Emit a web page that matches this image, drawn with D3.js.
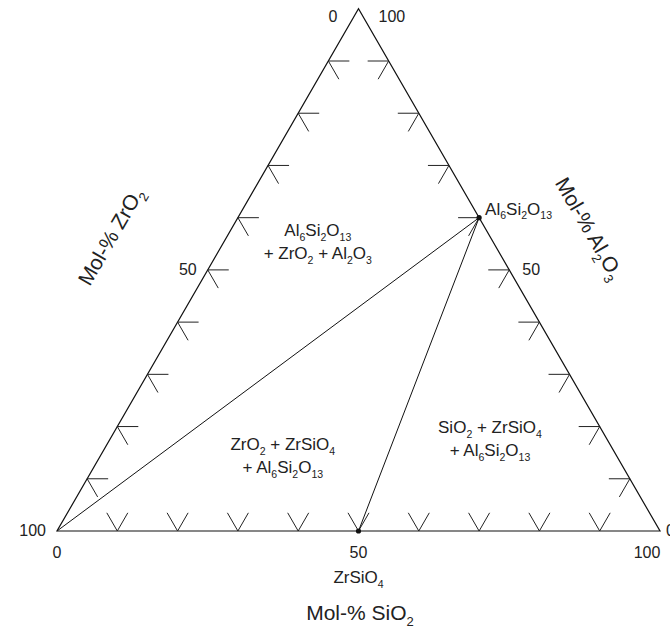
<!DOCTYPE html>
<html>
<head>
<meta charset="utf-8">
<script src="https://cdn.jsdelivr.net/npm/d3@7"></script>
<style>
  body { margin: 0; background: #fff; }
  svg text { font-family: "Liberation Sans", Arial, sans-serif; fill: #222; }
</style>
</head>
<body>
<div id="chart"></div>
<script>
// ternary: bottom-left = ZrO2, bottom-right = SiO2, top = Al2O3
const innerTicks = [10, 20, 30, 40, 50, 60, 70, 80, 90];
const bottomLabels = [0, 50, 100];      // Mol-% SiO2
const leftLabels = [100, 50, 0];        // Mol-% ZrO2 (at Al2O3 = 0, 50, 100)
const rightLabels = [0, 50, 100];       // Mol-% Al2O3

// phases: [name, SiO2, Al2O3]
const phases = [
  { name: 'ZrO2', si: 0, al: 0, show: false },
  { name: 'ZrSiO4', si: 50, al: 0, show: true },
  { name: 'Al6Si2O13', si: 40, al: 60, show: true }
];
const tieLines = [['ZrO2', 'Al6Si2O13'], ['ZrSiO4', 'Al6Si2O13']];

// phase field labels, anchored at a composition (SiO2, Al2O3)
const fields = [
  { lines: ['Al6Si2O13', '+ ZrO2 + Al2O3'], si: 15, al: 56.5 },
  { lines: ['ZrO2 + ZrSiO4', '+ Al6Si2O13'], si: 29.7, al: 15.5 },
  { lines: ['SiO2 + ZrSiO4', '+ Al6Si2O13'], si: 62.4, al: 18.8 }
];

const width = 670, height = 628;
const x0 = 57, side = 603, yBase = 531;
const tri = side * Math.sqrt(3) / 2;

const svg = d3.select('#chart').append('svg')
  .attr('width', width).attr('height', height);

const xScale = d3.scaleLinear().domain([0, 100]).range([x0, x0 + side]);
const yScale = d3.scaleLinear().domain([0, 100]).range([yBase, yBase - tri]);
const proj = (si, al) => [xScale(si) + (xScale(al) - x0) / 2, yScale(al)];

// write chemical formula with subscripted digits
function formula(sel, str, size) {
  const parts = str.split(/(\d+)/).filter(s => s.length);
  let sub = false;
  parts.forEach(p => {
    const isNum = /^\d+$/.test(p);
    const t = sel.append('tspan').text(p);
    if (isNum && !sub) { t.attr('dy', size * 0.28).attr('font-size', size * 0.62); sub = true; }
    else if (isNum) { t.attr('font-size', size * 0.62); }
    else if (sub) { t.attr('dy', -size * 0.28); sub = false; }
  });
}

// triangle outline
const A = proj(0, 0), B = proj(100, 0), C = proj(0, 100);
svg.append('path')
  .attr('d', d3.line()([A, B, C, A]) + 'Z')
  .attr('fill', 'none').attr('stroke', '#111').attr('stroke-width', 1.2);

// tick marks
const L = 21, c60 = Math.cos(Math.PI / 3), s60 = Math.sin(Math.PI / 3);
const tickG = svg.append('g').attr('stroke', '#222').attr('stroke-width', 1).attr('fill', 'none');
innerTicks.forEach(t => {
  // bottom: V pointing down
  let p = proj(t, 0);
  tickG.append('path').attr('d', d3.line()([[p[0] - L * c60, p[1] - L * s60], p, [p[0] + L * c60, p[1] - L * s60]]));
  // left edge
  p = proj(0, t);
  tickG.append('path').attr('d', d3.line()([[p[0] + L, p[1]], p, [p[0] + L * c60, p[1] + L * s60]]));
  // right edge
  p = proj(100 - t, t);
  tickG.append('path').attr('d', d3.line()([[p[0] - L, p[1]], p, [p[0] - L * c60, p[1] + L * s60]]));
});

// tie lines
const byName = Object.fromEntries(phases.map(d => [d.name, d]));
svg.append('g').selectAll('line').data(tieLines).join('line')
  .attr('x1', d => proj(byName[d[0]].si, byName[d[0]].al)[0])
  .attr('y1', d => proj(byName[d[0]].si, byName[d[0]].al)[1])
  .attr('x2', d => proj(byName[d[1]].si, byName[d[1]].al)[0])
  .attr('y2', d => proj(byName[d[1]].si, byName[d[1]].al)[1])
  .attr('stroke', '#111').attr('stroke-width', 1);

svg.append('g').selectAll('circle').data(phases.filter(d => d.show)).join('circle')
  .attr('cx', d => proj(d.si, d.al)[0]).attr('cy', d => proj(d.si, d.al)[1])
  .attr('r', 2.6).attr('fill', '#111');

// tick labels
const fs = 16;
const lab = svg.append('g').attr('font-size', fs);
bottomLabels.forEach(v => {
  const p = proj(v, 0);
  lab.append('text').attr('x', v === 100 ? p[0] - 13 : p[0]).attr('y', p[1] + 27)
    .attr('text-anchor', 'middle').text(v);
});
leftLabels.forEach((v, i) => {
  const al = 100 - v;
  const p = proj(0, al);
  const dx = al === 100 ? -21 : -11;
  lab.append('text').attr('x', p[0] + dx).attr('y', al === 100 ? p[1] + 13 : p[1] + 5)
    .attr('text-anchor', 'end').text(v);
});
rightLabels.forEach(v => {
  const p = proj(100 - v, v);
  const dx = v === 100 ? 20 : (v === 0 ? 6 : 13);
  lab.append('text').attr('x', p[0] + dx).attr('y', v === 100 ? p[1] + 13 : p[1] + 5)
    .attr('text-anchor', 'start').text(v);
});

// phase labels at points
const fz = 17;
const zs = proj(byName['ZrSiO4'].si, byName['ZrSiO4'].al);
formula(svg.append('text').attr('font-size', fz).attr('text-anchor', 'middle')
  .attr('x', zs[0]).attr('y', zs[1] + 52), 'ZrSiO4', fz);
const mu = proj(byName['Al6Si2O13'].si, byName['Al6Si2O13'].al);
formula(svg.append('text').attr('font-size', fz).attr('text-anchor', 'start')
  .attr('x', mu[0] + 6).attr('y', mu[1] - 3), 'Al6Si2O13', fz);

// field labels
fields.forEach(f => {
  const p = proj(f.si, f.al);
  f.lines.forEach((ln, i) => {
    formula(svg.append('text').attr('font-size', fz).attr('text-anchor', 'middle')
      .attr('x', p[0]).attr('y', p[1] + i * 23), ln, fz);
  });
});

// axis titles
const ft = 21;
formula(svg.append('text').attr('font-size', ft).attr('text-anchor', 'middle')
  .attr('x', 360).attr('y', 620), 'Mol-% SiO2', ft);
formula(svg.append('text').attr('font-size', ft).attr('text-anchor', 'middle')
  .attr('transform', 'translate(117,240) rotate(-60)'), 'Mol-% ZrO2', ft);
formula(svg.append('text').attr('font-size', ft).attr('text-anchor', 'middle')
  .attr('transform', 'translate(583,232) rotate(60)'), 'Mol-% Al2O3', ft);
</script>
</body>
</html>
